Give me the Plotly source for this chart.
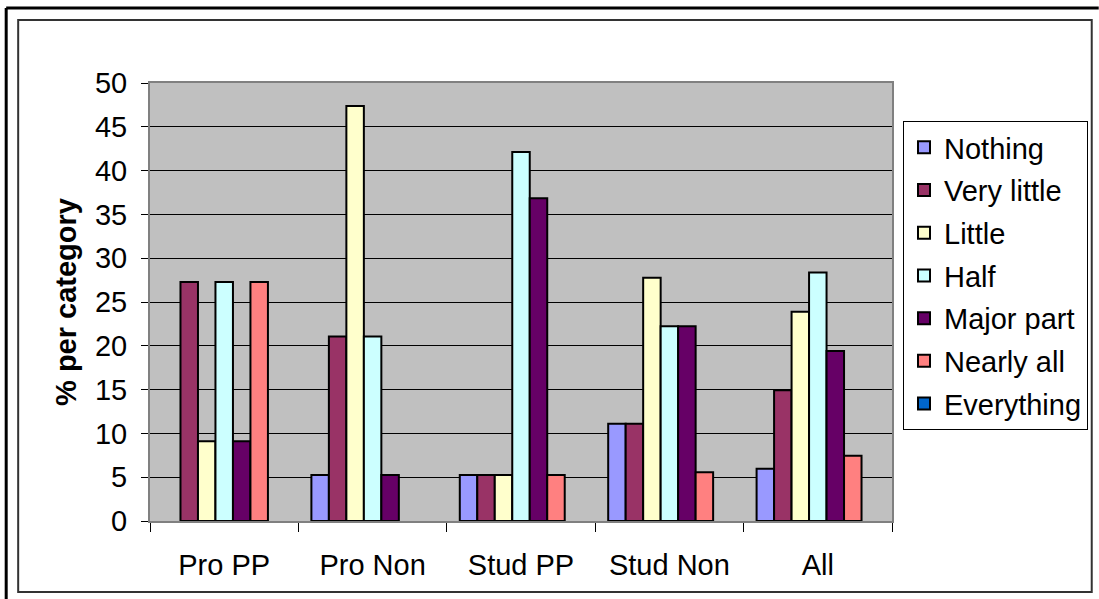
import plotly.graph_objects as go

# Data (% per category)
categories = ["Pro PP", "Pro Non", "Stud PP", "Stud Non", "All"]
series_names = ["Nothing", "Very little", "Little", "Half",
                "Major part", "Nearly all", "Everything"]

nothing = [0, 5.26, 5.26, 11.11, 5.97]
very_little = [27.27, 21.05, 5.26, 11.11, 14.93]
little = [9.09, 47.37, 5.26, 27.78, 23.88]
half = [27.27, 21.05, 42.11, 22.22, 28.36]
major_part = [9.09, 5.26, 36.84, 22.22, 19.40]
nearly_all = [27.27, 0, 5.26, 5.56, 7.46]
everything = [0, 0, 0, 0, 0]

series_values = [nothing, very_little, little, half,
                 major_part, nearly_all, everything]
colors = ["#9999FF", "#993366", "#FFFFCC", "#CCFFFF",
          "#660066", "#FF8080", "#0066CC"]

y_ticks = list(range(0, 55, 5))

FONT = "Liberation Sans, Arial, sans-serif"
W, H = 1099, 599
L, R, T, B = 150, 206, 83, 78


def px_x(p):
    return (p - L) / (W - L - R)


def px_y(p):
    return (H - B - p) / (H - T - B)


fig = go.Figure()

for name, vals, col in zip(series_names, series_values, colors):
    # zero-height bars are not drawn (no outline stub)
    fig.add_trace(go.Bar(
        x=categories, y=[v if v > 0 else None for v in vals], name=name,
        legendgroup=name,
        marker=dict(color=col, line=dict(color="black", width=2)),
    ))

# frame lines around the chart
fig.add_shape(type="line", xref="paper", yref="paper",
              x0=px_x(6), x1=px_x(1100), y0=px_y(8), y1=px_y(8),
              line=dict(color="black", width=3))
fig.add_shape(type="line", xref="paper", yref="paper",
              x0=px_x(6), x1=px_x(6), y0=px_y(8), y1=px_y(600),
              line=dict(color="black", width=3))
fig.add_shape(type="rect", xref="paper", yref="paper",
              x0=px_x(18), x1=px_x(1093), y0=px_y(592), y1=px_y(20),
              line=dict(color="#333333", width=2))

fig.update_layout(
    width=W, height=H,
    margin=dict(l=L, r=R, t=T, b=B),
    paper_bgcolor="white",
    plot_bgcolor="#C0C0C0",
    barmode="group",
    bargap=0.175,
    bargroupgap=0,
    font=dict(family=FONT, size=29, color="black"),
    legend=dict(
        x=px_x(903), y=px_y(121), xanchor="left", yanchor="top",
        bordercolor="black", borderwidth=1, bgcolor="white",
        font=dict(size=29), tracegroupgap=2,
    ),
    xaxis=dict(
        showline=True, linecolor="#808080", linewidth=2, mirror=True,
        ticks="outside", tickson="boundaries", ticklen=9,
        tickcolor="black", ticklabelstandoff=17,
    ),
    yaxis=dict(
        range=[0, 50], tickvals=y_ticks,
        showline=True, linecolor="#808080", linewidth=2, mirror=True,
        showgrid=True, gridcolor="black", gridwidth=1,
        ticks="outside", ticklen=7, tickcolor="black",
        ticklabelstandoff=8, zeroline=False,
        title=dict(text="<b>% per category</b>", font=dict(size=29),
                   standoff=10),
    ),
)

fig.write_html("out.html", config={"displayModeBar": False},
               post_script="document.body.style.margin='0';")
